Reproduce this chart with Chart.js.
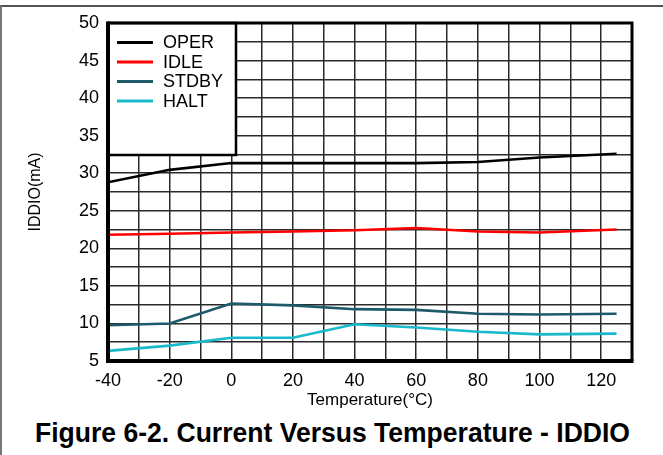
<!DOCTYPE html>
<html>
<head>
<meta charset="utf-8">
<script src="https://cdn.jsdelivr.net/npm/chart.js@4/dist/chart.umd.min.js"></script>
<style>
  html, body { margin: 0; padding: 0; background: #fff; }
  #wrap { position: relative; width: 663px; height: 455px; overflow: hidden; }
  #frame { position: absolute; left: 0; top: 5px; width: 663px; height: 460px; border-top: 2px solid #555; border-left: 2px solid #777; box-sizing: border-box; }
  #cv { position: absolute; left: 0; top: 0; }
  #title { position: absolute; left: 0; top: 419px; width: 663px; height: 28px; line-height: 28px;
           font-family: "Liberation Sans", Arial, sans-serif; font-weight: bold; font-size: 28px; color: #000;
           white-space: nowrap; }
  #title span { display: inline-block; transform-origin: 0 0; }
</style>
</head>
<body>
<div id="wrap">
  <div id="frame"></div>
  <canvas id="cv" width="663" height="415"></canvas>
  <div id="title"><span id="tspan">Figure 6-2. Current Versus Temperature - IDDIO</span></div>
</div>
<script>
const temperatures = [-40, -20, 0, 20, 40, 60, 80, 100, 125];
const operValues  = [28.8, 30.45, 31.35, 31.35, 31.35, 31.35, 31.5, 32.1, 32.6];
const idleValues  = [21.8, 21.95, 22.1, 22.25, 22.4, 22.7, 22.25, 22.1, 22.5];
const stdbyValues = [9.75, 10.0, 12.65, 12.4, 11.9, 11.8, 11.3, 11.2, 11.3];
const haltValues  = [6.35, 7.05, 8.1, 8.1, 9.9, 9.45, 8.9, 8.55, 8.65];
const seriesNames = ["OPER", "IDLE", "STDBY", "HALT"];
const seriesColors = ["#000000", "#ff0000", "#1c5a6c", "#19b9cc"];
const xTickLabels = [-40, -20, 0, 20, 40, 60, 80, 100, 120];
const yTickLabels = [5, 10, 15, 20, 25, 30, 35, 40, 45, 50];

// Title: fit to the measured width of the reference
(function(){
  const s = document.getElementById('tspan');
  const w = s.getBoundingClientRect().width;
  const target = 595;
  const k = target / w;
  s.style.transform = 'scaleX(' + k + ')';
  s.style.marginLeft = (332 - target / 2) + 'px';
})();

const allValues = [operValues, idleValues, stdbyValues, haltValues];
const datasets = seriesNames.map((name, i) => ({
  label: name,
  data: temperatures.map((t, j) => ({ x: t, y: allValues[i][j] })),
  borderColor: seriesColors[i],
  backgroundColor: seriesColors[i],
  borderWidth: 2.6,
  pointRadius: 0,
  tension: 0,
  fill: false
}));

const FONT = "'Liberation Sans', Arial, sans-serif";

const boxLegend = {
  id: 'boxLegend',
  afterDatasetsDraw(chart) {
    const { ctx, chartArea } = chart;
    const L = chartArea.left, T = chartArea.top;
    ctx.save();
    ctx.fillStyle = '#fff';
    ctx.fillRect(L, T, 128, 132);
    ctx.lineWidth = 2.5;
    ctx.strokeStyle = '#000';
    ctx.strokeRect(L, T, 128, 132);
    const rows = [19.5, 39, 58.5, 78];
    chart.data.datasets.forEach((ds, i) => {
      const y = T + rows[i];
      ctx.beginPath();
      ctx.strokeStyle = ds.borderColor;
      ctx.lineWidth = 3;
      ctx.moveTo(L + 9, y);
      ctx.lineTo(L + 45, y);
      ctx.stroke();
      ctx.fillStyle = '#000';
      ctx.font = '18px ' + FONT;
      ctx.textBaseline = 'middle';
      ctx.textAlign = 'left';
      ctx.fillText(ds.label, L + 55, y + 1);
    });
    ctx.restore();
  },
  afterDraw(chart) {
    const { ctx, chartArea } = chart;
    ctx.save();
    ctx.strokeStyle = '#000';
    ctx.lineWidth = 3;
    ctx.beginPath();
    ctx.moveTo(chartArea.left, chartArea.top);
    ctx.lineTo(chartArea.right, chartArea.top);
    ctx.lineTo(chartArea.right, chartArea.bottom);
    ctx.stroke();
    ctx.lineWidth = 4;
    ctx.beginPath();
    ctx.moveTo(chartArea.left, chartArea.top - 1.5);
    ctx.lineTo(chartArea.left, chartArea.bottom);
    ctx.lineTo(chartArea.right + 1.5, chartArea.bottom);
    ctx.stroke();
    ctx.restore();
  }
};

new Chart(document.getElementById('cv'), {
  type: 'line',
  data: { datasets },
  plugins: [boxLegend],
  options: {
    responsive: false,
    animation: false,
    layout: { padding: { left: 0, top: 23, right: 31, bottom: 0 } },
    plugins: { legend: { display: false }, tooltip: { enabled: false } },
    scales: {
      x: {
        type: 'linear',
        min: -40, max: 130,
        afterFit(scale) { scale.height = 54; },
        afterBuildTicks(scale) {
          const t = [];
          for (let v = -40; v <= 130; v += 10) t.push({ value: v });
          scale.ticks = t;
        },
        ticks: {
          autoSkip: false, maxRotation: 0, padding: 9,
          color: '#000',
          font: { family: FONT, size: 18 },
          callback: (v) => xTickLabels.includes(v) ? String(v) : ''
        },
        grid: { color: '#2a2a2a', lineWidth: 1.5, drawTicks: false },
        border: { display: false },
        title: { display: true, text: 'Temperature(°C)', color: '#000',
                 font: { family: FONT, size: 17 }, padding: { top: 0, bottom: 4 } }
      },
      y: {
        min: 5, max: 50,
        afterFit(scale) { scale.width = 108; },
        afterBuildTicks(scale) {
          const t = [];
          for (let v = 5; v <= 50; v += 2.5) t.push({ value: v });
          scale.ticks = t;
        },
        ticks: {
          autoSkip: false, padding: 9,
          color: '#000',
          font: { family: FONT, size: 18 },
          callback: (v) => yTickLabels.includes(v) ? String(v) : ''
        },
        grid: { color: '#2a2a2a', lineWidth: 1.5, drawTicks: false },
        border: { display: false },
        title: { display: true, text: 'IDDIO(mA)', color: '#000',
                 font: { family: FONT, size: 16 }, padding: { top: 26, bottom: 0 } }
      }
    }
  }
});
</script>
</body>
</html>
